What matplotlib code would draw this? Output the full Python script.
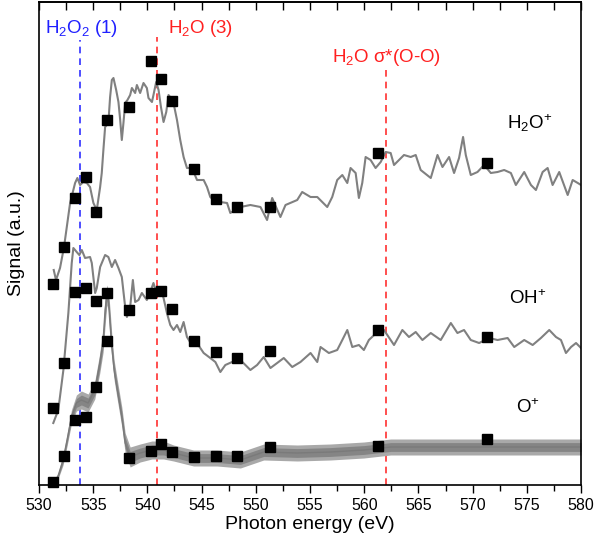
import matplotlib
matplotlib.use("Agg")
import matplotlib.pyplot as plt
import numpy as np

plt.rcParams['font.family'] = ['Liberation Sans', 'DejaVu Sans']
plt.rcParams['mathtext.fontset'] = 'custom'
plt.rcParams['mathtext.rm'] = 'Liberation Sans'
plt.rcParams['mathtext.it'] = 'Liberation Sans:italic'

h2o_x = [531.36, 531.57, 531.94, 532.31, 532.87, 533.33, 533.54, 533.79, 534.09, 534.41,
         534.71, 535.02, 535.33, 535.64, 535.79, 535.94, 536.10, 536.40, 536.56, 536.72,
         536.87, 537.12, 537.33, 537.49, 537.64, 537.79, 537.95, 538.16, 538.41, 538.57,
         538.87, 539.03, 539.33, 539.64, 539.95, 540.10, 540.42, 540.56, 540.81, 541.03,
         541.25, 541.49, 541.74, 541.95, 542.17, 542.41, 542.73, 543.03, 543.34, 543.65,
         544.11, 544.58, 544.88, 545.19, 545.50, 545.80, 546.11, 546.73, 547.35, 547.65,
         548.11, 548.58, 549.50, 550.43, 551.04, 551.51, 552.27, 552.74, 553.82, 554.28,
         555.05, 555.67, 556.59, 557.05, 557.51, 557.98, 558.44, 558.74, 559.21, 559.51,
         559.82, 560.13, 560.59, 561.05, 561.52, 561.98, 562.44, 562.75, 563.21, 563.67,
         564.29, 564.75, 565.21, 566.14, 566.76, 567.22, 567.83, 568.29, 568.75, 569.12,
         569.37, 569.83, 570.45, 571.06, 571.68, 572.30, 572.91, 573.53, 573.99, 574.76,
         575.38, 575.84, 576.46, 576.92, 577.38, 577.99, 578.77, 579.23, 579.70, 580.00]
h2o_y = [215, 205, 217, 238, 282, 302, 307, 300, 303, 302,
         298, 282, 275, 298, 312, 335, 358, 362, 388, 405,
         407, 395, 383, 365, 345, 362, 382, 385, 390, 397,
         392, 400, 392, 402, 397, 387, 383, 390, 403, 395,
         378, 363, 373, 390, 387, 382, 365, 345, 328, 317,
         317, 305, 305, 305, 298, 288, 285, 283, 282, 272,
         275, 278, 280, 278, 265, 287, 268, 280, 285, 293,
         288, 288, 278, 288, 305, 310, 302, 317, 312, 287,
         302, 328, 325, 317, 323, 333, 332, 320, 325, 330,
         328, 330, 315, 307, 330, 318, 328, 312, 327, 348,
         330, 310, 313, 320, 312, 313, 315, 312, 300, 313,
         300, 295, 313, 317, 300, 313, 290, 305, 302, 300]

oh_x = [531.32, 531.78, 532.25, 532.71, 533.02, 533.17, 533.48, 533.72, 533.95, 534.25,
        534.71, 534.87, 535.18, 535.33, 535.64, 536.10, 536.40, 536.72, 537.02, 537.33,
        537.64, 537.95, 538.11, 538.41, 538.66, 538.87, 539.18, 539.49, 539.95, 540.26,
        540.56, 540.81, 541.18, 541.49, 541.80, 542.11, 542.41, 542.73, 543.03, 543.34,
        543.65, 544.11, 544.58, 544.88, 545.19, 545.80, 546.27, 546.73, 547.19, 547.81,
        548.58, 549.50, 550.12, 550.73, 551.35, 551.97, 552.58, 553.36, 554.12, 555.05,
        555.67, 555.97, 556.74, 557.51, 557.98, 558.44, 558.90, 559.51, 559.97, 560.43,
        561.21, 561.82, 562.75, 563.52, 564.13, 564.75, 565.37, 566.14, 567.06, 567.99,
        568.60, 569.21, 569.83, 570.60, 571.53, 572.30, 573.23, 573.84, 574.76, 575.54,
        576.30, 577.07, 577.69, 578.15, 578.61, 579.08, 579.54, 580.00]
oh_y = [62, 75, 115, 172, 222, 237, 233, 230, 235, 227,
        228, 222, 192, 197, 218, 230, 228, 218, 225, 217,
        208, 178, 168, 178, 205, 183, 185, 192, 185, 193,
        202, 193, 197, 187, 172, 160, 155, 160, 153, 163,
        148, 140, 142, 137, 132, 127, 123, 113, 120, 123,
        125, 115, 120, 128, 117, 122, 127, 118, 123, 132,
        123, 138, 132, 135, 145, 155, 138, 140, 135, 145,
        153, 155, 140, 155, 148, 153, 145, 152, 145, 162,
        152, 155, 145, 142, 147, 145, 147, 138, 145, 140,
        147, 155, 148, 145, 132, 138, 142, 137]

# O+ is very noisy: centre of the trace and half width of the noise band
o_x = [531.29, 531.76, 532.22, 532.59, 532.99, 533.45, 533.91, 534.53, 535.15, 535.61,
       535.92, 536.10, 536.26, 536.40, 536.56, 536.72, 536.93, 537.18, 537.64, 537.95,
       538.41, 539.33, 540.42, 541.49, 542.41, 544.26, 546.42, 548.58, 550.73, 553.82,
       556.89, 559.97, 562.44, 566.14, 569.21, 572.30, 575.38, 580.00]
o_y = [1, 9, 25, 45, 68, 82, 85, 82, 95, 122,
       145, 175, 190, 185, 160, 138, 115, 98, 68, 42,
       28, 32, 35, 35, 32, 27, 27, 25, 33, 32,
       33, 35, 38, 38, 38, 38, 38, 38]
o_hw = [2, 3, 5, 6, 7, 8, 9, 9, 9, 10,
        12, 15, 10, 10, 15, 12, 10, 10, 10, 10,
        10, 9, 9, 9, 8, 8, 8, 8, 8, 8,
        8, 8, 8, 8, 8, 8, 8, 8]

# calculated points (squares)
calc_x = [531.3, 532.3, 533.3, 534.3, 535.3, 536.3, 538.3, 540.3,
          541.3, 542.3, 544.3, 546.3, 548.3, 551.3, 561.3, 571.3]
calc_h2o = [201, 238, 287, 308, 273, 365, 378, 424, 406, 384, 316, 286, 278, 278, 332, 322]
calc_oh = [77, 122, 193, 197, 184, 192, 175, 192, 194, 176, 144, 133, 127, 134, 155, 148]
calc_o = [3, 29, 65, 68, 98, 144, 27, 34, 41, 33, 28, 29, 29, 38, 39, 46]

# resonance markers
res_x = [533.8, 540.9, 562.0]
res_top = [445, 448, 417]
res_col = ['#3030ff', '#ff3030', '#ff3030']

fig = plt.figure(figsize=(5.98, 5.41), dpi=100)
ax = fig.add_axes([0.0652, 0.1035, 0.9064, 0.8928])

gray = '#808080'
ax.plot(h2o_x, h2o_y, color=gray, lw=1.5, zorder=2)
ax.plot(oh_x, oh_y, color=gray, lw=1.5, zorder=2)
o_y_arr = np.array(o_y)
o_hw_arr = np.array(o_hw)
# lighter outer noise band, darker core
ax.fill_between(o_x, o_y_arr - o_hw_arr, o_y_arr + o_hw_arr, color='#a9a9a9', lw=0, zorder=2)
ax.fill_between(o_x, o_y_arr - 0.55 * o_hw_arr, o_y_arr + 0.55 * o_hw_arr, color='#858585', lw=0, zorder=2)
ax.plot(o_x, o_y, color='#7a7a7a', lw=1.0, zorder=2)

for ys in (calc_h2o, calc_oh, calc_o):
    ax.plot(calc_x, ys, ls='none', marker='s', ms=6.5, color='black', zorder=3, clip_on=False)

for xv, top, c in zip(res_x, res_top, res_col):
    ax.plot([xv, xv], [0, top], color=c, ls=(0, (4, 3)), lw=1.2, zorder=1)

ax.text(530.55, 452, r'H$_2$O$_2$ (1)', color='#2020ff', fontsize=13.5, va='baseline')
ax.text(541.92, 452, r'H$_2$O (3)', color='#ff2020', fontsize=13.5, va='baseline')
ax.text(557.05, 423, r'H$_2$O σ*(O-O)', color='#ff2020', fontsize=13.5, va='baseline')
ax.text(573.2, 356, r'H$_2$O$^{+}$', fontsize=13.5, va='baseline')
ax.text(573.35, 181, r'OH$^{+}$', fontsize=13.5, va='baseline')
ax.text(574.0, 72, r'O$^{+}$', fontsize=13.5, va='baseline')

ax.set_xlim(530, 580)
ax.set_ylim(0, 483)
ax.set_xticks(np.arange(530, 581, 5))
ax.set_xticks(np.arange(532.5, 580, 5), minor=True)
ax.set_yticks([])
ax.tick_params(axis='x', which='major', direction='out', length=6, width=1, labelsize=11.5)
ax.tick_params(axis='x', which='minor', direction='out', length=4, width=1)
ax.set_xlabel('Photon energy (eV)', fontsize=14, labelpad=2)
ax.set_ylabel('Signal (a.u.)', fontsize=14, labelpad=10)
for s in ax.spines.values():
    s.set_linewidth(1.2)

top = ax.secondary_xaxis('top')
top.set_xticks(np.arange(530, 581, 5))
top.set_xticks(np.arange(532.5, 580, 5), minor=True)
top.tick_params(axis='x', which='both', direction='in', length=6, width=1, labeltop=False)
top.spines['top'].set_linewidth(1.2)

plt.savefig('out.png', dpi=100)
